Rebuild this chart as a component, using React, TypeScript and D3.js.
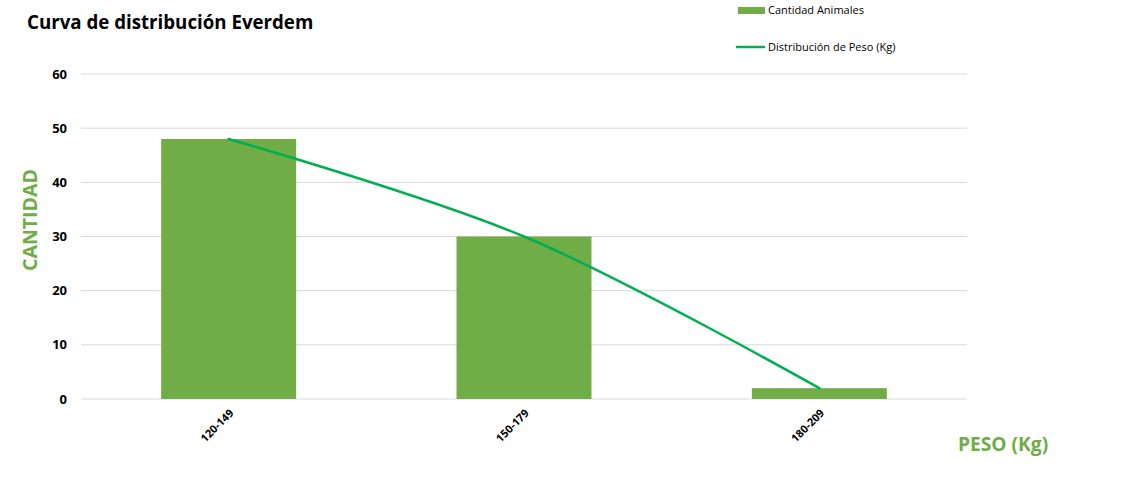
import React, { useEffect, useRef } from 'react';
import * as d3 from 'd3';

const categories = ['120-149', '150-179', '180-209'];
const cantidadAnimales = [48, 30, 2];
const distribucionPeso = [48, 30, 2];
const yTicks = [0, 10, 20, 30, 40, 50, 60];

const W = 1147;
const H = 494;
const font = '"Open Sans", "Liberation Sans", sans-serif';

export default function App() {
  const svgRef = useRef<SVGSVGElement>(null);

  useEffect(() => {
    if (!svgRef.current) return;
    const svg = d3.select(svgRef.current);
    svg.selectAll('*').remove();

    const left = 81, right = 967, top = 74, bottom = 399;

    const x = d3.scaleBand<string>().domain(categories).range([left, right]).paddingInner(0.543).paddingOuter(0.2715);
    const y = d3.scaleLinear().domain([0, 60]).range([bottom, top]);

    // gridlines
    svg.append('g')
      .selectAll('line')
      .data(yTicks)
      .enter()
      .append('line')
      .attr('x1', left)
      .attr('x2', right)
      .attr('y1', d => y(d))
      .attr('y2', d => y(d))
      .attr('stroke', '#d9d9d9')
      .attr('stroke-width', 1);

    // y tick labels
    svg.append('g')
      .selectAll('text')
      .data(yTicks)
      .enter()
      .append('text')
      .attr('x', 67)
      .attr('y', d => y(d))
      .attr('dy', '0.35em')
      .attr('text-anchor', 'end')
      .attr('font-family', font)
      .attr('font-size', 13)
      .attr('font-weight', 'bold')
      .attr('fill', '#000')
      .text(d => d);

    // bars
    svg.append('g')
      .selectAll('rect')
      .data(categories)
      .enter()
      .append('rect')
      .attr('x', d => x(d)!)
      .attr('width', x.bandwidth())
      .attr('y', (d, i) => y(cantidadAnimales[i]))
      .attr('height', (d, i) => bottom - y(cantidadAnimales[i]))
      .attr('fill', '#70AD47');

    // smooth line
    const line = d3.line<number>()
      .x((d, i) => x(categories[i])! + x.bandwidth() / 2)
      .y(d => y(d))
      .curve(d3.curveCatmullRom.alpha(0.5));

    svg.append('path')
      .datum(distribucionPeso)
      .attr('d', line)
      .attr('fill', 'none')
      .attr('stroke', '#00B050')
      .attr('stroke-width', 2.5)
      .attr('stroke-linecap', 'round');

    // x tick labels
    svg.append('g')
      .selectAll('text')
      .data(categories)
      .enter()
      .append('text')
      .attr('transform', d => `translate(${x(d)! + x.bandwidth() / 2 + 3},${bottom + 12}) rotate(-45)`)
      .attr('text-anchor', 'end')
      .attr('dy', '0.35em')
      .attr('font-family', font)
      .attr('font-size', 11)
      .attr('font-weight', 'bold')
      .attr('fill', '#000')
      .text(d => d);

    // title
    svg.append('text')
      .attr('x', 27)
      .attr('y', 29)
      .attr('font-family', font)
      .attr('font-size', 18.7)
      .attr('font-weight', 'bold')
      .attr('fill', '#000')
      .text('Curva de distribución Everdem');

    // axis titles
    svg.append('text')
      .attr('transform', `translate(37,220) rotate(-90)`)
      .attr('text-anchor', 'middle')
      .attr('font-family', font)
      .attr('font-size', 19.5)
      .attr('font-weight', 'bold')
      .attr('fill', '#70AD47')
      .text('CANTIDAD');

    svg.append('text')
      .attr('x', 958)
      .attr('y', 451)
      .attr('font-family', font)
      .attr('font-size', 19.2)
      .attr('font-weight', 'bold')
      .attr('fill', '#70AD47')
      .text('PESO (Kg)');

    // legend
    const lg = svg.append('g').attr('font-family', font).attr('font-size', 11).attr('fill', '#000');
    lg.append('rect').attr('x', 738).attr('y', 7).attr('width', 27).attr('height', 7).attr('fill', '#70AD47');
    lg.append('text').attr('x', 768).attr('y', 10.5).attr('dy', '0.35em').text('Cantidad Animales');
    lg.append('line').attr('x1', 737).attr('x2', 764).attr('y1', 47).attr('y2', 47)
      .attr('stroke', '#00B050').attr('stroke-width', 2.5).attr('stroke-linecap', 'round');
    lg.append('text').attr('x', 768).attr('y', 47).attr('dy', '0.35em').text('Distribución de Peso (Kg)');
  }, []);

  return (
    <svg
      ref={svgRef}
      width={W}
      height={H}
      style={{ position: 'absolute', left: 0, top: 0, background: '#fff' }}
    />
  );
}
